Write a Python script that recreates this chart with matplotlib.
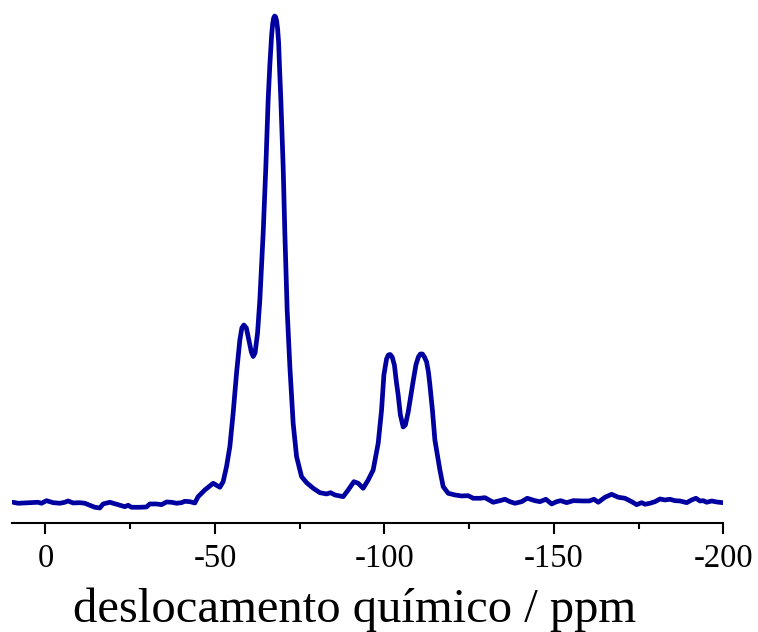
import matplotlib
matplotlib.use('Agg')
import matplotlib.pyplot as plt
from matplotlib.ticker import MultipleLocator

# chemical shift (ppm) and intensity (a.u.)
shift = [9.56, 8.09, 6.11, 4.13, 2.18, 1.18, -0.30, -2.24, -4.22, -5.70,
         -6.67, -8.15, -10.12, -11.60, -13.08, -14.55, -16.03, -17.00, -18.98, -20.96,
         -22.43, -23.41, -24.38, -25.38, -27.83, -29.81, -30.78, -32.76, -34.24, -35.71,
         -37.19, -38.67, -40.14, -41.12, -42.59, -44.07, -45.04, -47.02, -49.47, -51.45,
         -52.42, -53.42, -54.40, -55.37, -56.37, -57.35, -57.94, -58.53, -59.27, -59.80,
         -60.74, -61.28, -61.84, -62.57, -63.25, -64.23, -65.02, -65.70, -66.20, -66.73,
         -67.03, -67.32, -67.62, -67.91, -68.21, -68.50, -68.80, -69.03, -69.45, -70.13,
         -70.63, -71.31, -72.11, -73.08, -74.09, -75.56, -77.04, -78.99, -80.96, -82.94,
         -84.12, -85.39, -87.84, -89.32, -91.00, -92.27, -93.74, -95.22, -96.69, -98.17,
         -99.17, -99.85, -100.64, -101.18, -101.71, -102.30, -102.95, -103.54, -104.07, -104.72,
         -105.55, -106.20, -107.03, -107.82, -108.50, -109.30, -110.03, -110.63, -111.22, -111.81,
         -112.46, -112.99, -113.43, -114.17, -114.90, -116.38, -117.35, -118.83, -120.81, -122.79,
         -124.73, -126.21, -128.19, -129.66, -132.11, -134.09, -135.57, -137.04, -138.52, -140.50,
         -142.15, -144.42, -145.90, -147.67, -149.35, -150.83, -152.01, -153.78, -155.73, -158.68,
         -160.45, -161.84, -163.11, -165.09, -167.06, -169.01, -170.99, -172.96, -174.44, -175.91,
         -176.89, -178.36, -179.84, -181.32, -182.79, -184.27, -185.74, -187.22, -189.20, -190.67,
         -191.94, -193.12, -194.10, -195.10, -196.58, -198.05, -199.82]
intensity = [2.7, 1.7, 2.0, 2.3, 2.7, 1.7, 4.3, 2.3, 1.7, 2.7,
             4.0, 2.0, 2.3, 1.7, -0.3, -2.3, -3.0, 1.0, 2.7, 0.7,
             -0.7, -1.7, -0.3, -2.3, -2.3, -2.0, 1.0, 1.0, 0.3, 3.0,
             2.7, 1.7, 2.3, 3.7, 3.3, 2.0, 8.3, 15.0, 21.7, 17.7,
             23.3, 38.3, 58.3, 91.7, 131.7, 165.0, 177.0, 180.0, 177.0, 168.3,
             153.0, 148.5, 152.0, 171.7, 205.0, 271.7, 338.3, 405.0, 440.0, 470.0,
             481.0, 487.0, 489.0, 488.0, 484.0, 476.0, 462.0, 440.0, 405.0, 338.3,
             271.7, 195.0, 138.3, 81.7, 48.3, 28.3, 22.3, 16.7, 12.3, 11.0,
             12.3, 10.0, 8.3, 15.0, 23.3, 21.7, 16.7, 25.0, 35.0, 61.7,
             95.0, 130.0, 146.0, 150.0, 150.5, 148.0, 140.0, 123.0, 110.0, 90.0,
             78.0, 80.0, 93.0, 110.0, 124.0, 140.0, 148.0, 151.0, 151.0, 148.0,
             143.0, 133.0, 120.0, 95.0, 65.0, 35.0, 18.3, 11.7, 10.0, 9.0,
             9.3, 6.7, 6.7, 7.3, 2.7, 4.3, 5.7, 3.3, 1.7, 3.3,
             6.7, 4.3, 3.3, 5.7, 1.0, 3.3, 4.3, 2.3, 4.3, 4.0,
             4.0, 5.7, 2.7, 7.7, 10.7, 7.7, 6.7, 3.3, 0.3, 2.3,
             0.7, 1.7, 3.3, 6.0, 5.0, 5.7, 4.3, 4.0, 2.3, 5.0,
             6.7, 4.0, 4.3, 2.7, 4.0, 3.0, 2.3]

xticks = [0, -50, -100, -150, -200]

plt.rcParams['font.family'] = ['Liberation Serif', 'DejaVu Serif']

fig = plt.figure(figsize=(7.58, 6.32), dpi=100)
ax = fig.add_axes([0.0162, 0.173, 0.938, 0.827])

ax.plot(shift, intensity, color='#0000a0', lw=3.4,
        solid_joinstyle='round', solid_capstyle='round')

ax.set_xlim(9.8, -200)
ax.set_ylim(-17.7, 505)

for side in ['top', 'left', 'right']:
    ax.spines[side].set_visible(False)
ax.spines['bottom'].set_linewidth(1.5)

ax.set_yticks([])
ax.set_xticks(xticks)
ax.set_xticklabels([str(t) for t in xticks])
ax.xaxis.set_minor_locator(MultipleLocator(25))
ax.tick_params(axis='x', which='major', direction='out', length=8, width=1.5,
               labelsize=23.5, pad=7)
ax.tick_params(axis='x', which='minor', direction='out', length=4, width=1.5)

ax.set_xlabel('deslocamento químico / ppm', fontsize=35)
ax.xaxis.set_label_coords(0.482, -0.125)

fig.savefig('out.png', dpi=100)
